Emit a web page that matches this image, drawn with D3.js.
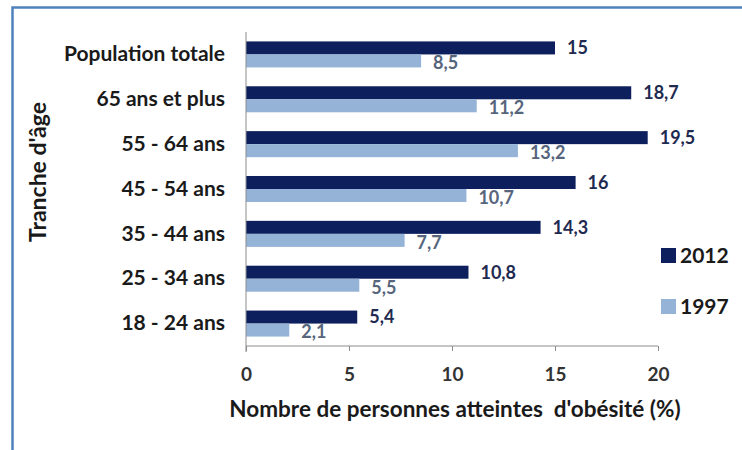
<!DOCTYPE html>
<html>
<head>
<meta charset="utf-8">
<script src="https://cdn.jsdelivr.net/npm/d3@7"></script>
<style>
  body { margin: 0; background: #fff; }
  text { font-family: Lato, "Open Sans", sans-serif; font-weight: 700; }
</style>
</head>
<body>
<div class="graph"></div>
<script>
var categories = ["Population totale", "65 ans et plus", "55 - 64 ans", "45 - 54 ans", "35 - 44 ans", "25 - 34 ans", "18 - 24 ans"];
var series = ["2012", "1997"];
var values2012 = [15, 18.7, 19.5, 16, 14.3, 10.8, 5.4];
var values1997 = [8.5, 11.2, 13.2, 10.7, 7.7, 5.5, 2.1];
var xTicks = [0, 5, 10, 15, 20];

var width = 742, height = 450;
var svg = d3.select(".graph").append("svg")
    .attr("width", width)
    .attr("height", height);

// frame
svg.append("path")
    .attr("d", "M12.5,460 V7.5 H750")
    .attr("fill", "none")
    .attr("stroke", "#4f81bd")
    .attr("stroke-width", 2.5);

var x = d3.scaleLinear().domain([0, 20]).range([246, 658]);
var y0 = d3.scaleBand().domain(categories).range([32, 346])
    .paddingInner(0.42).paddingOuter(0.21);
var y1 = d3.scaleBand().domain(series).range([0, y0.bandwidth()]);
var color = d3.scaleOrdinal().domain(series).range(["#0d1f5c", "#95b3d7"]);
var labelColor = d3.scaleOrdinal().domain(series).range(["#1f2a50", "#56657c"]);

var data = categories.map(function(c, i) {
  return {cat: c, vals: [{s: "2012", v: values2012[i]}, {s: "1997", v: values1997[i]}]};
});

var groups = svg.selectAll(".grp")
    .data(data)
  .enter().append("g")
    .attr("class", "grp")
    .attr("transform", function(d) { return "translate(0," + y0(d.cat) + ")"; });

groups.selectAll("rect")
    .data(function(d) { return d.vals; })
  .enter().append("rect")
    .attr("x", x(0))
    .attr("y", function(d) { return y1(d.s); })
    .attr("width", function(d) { return x(d.v) - x(0); })
    .attr("height", y1.bandwidth())
    .attr("fill", function(d) { return color(d.s); });

groups.selectAll(".val")
    .data(function(d) { return d.vals; })
  .enter().append("text")
    .attr("class", "val")
    .attr("x", function(d) { return x(d.v) + 12; })
    .attr("y", function(d) { return y1(d.s) + y1.bandwidth() / 2 + (d.s === "1997" ? 2 : 0); })
    .attr("dy", ".35em")
    .style("font-size", "18px")
    .attr("fill", function(d) { return labelColor(d.s); })
    .text(function(d) { return String(d.v).replace(".", ","); });

// axes
var xAxis = d3.axisBottom(x).tickValues(xTicks).tickSize(5).tickPadding(17);
var gx = svg.append("g")
    .attr("transform", "translate(0,346)")
    .call(xAxis);
gx.select(".domain").attr("stroke", "#8c8c8c").attr("d", "M246,0H658");
gx.selectAll(".tick line").attr("stroke", "#8c8c8c");
gx.selectAll(".tick text")
    .style("font-family", "Lato, sans-serif")
    .style("font-weight", 700)
    .style("font-size", "19px")
    .attr("fill", "#333");

var yAxis = d3.axisLeft(y0).tickSize(0).tickPadding(21);
var gy = svg.append("g")
    .attr("transform", "translate(246,0)")
    .call(yAxis);
gy.select(".domain").attr("stroke", "#8c8c8c").attr("d", "M0,32V352");
gy.selectAll(".tick text")
    .style("font-family", "Lato, sans-serif")
    .style("font-weight", 700)
    .style("font-size", "21px")
    .attr("fill", "#1a1a1a");

svg.append("text")
    .attr("x", 455)
    .attr("y", 409)
    .attr("dy", ".35em")
    .attr("text-anchor", "middle")
    .style("font-size", "22.5px")
    .style("white-space", "pre")
    .attr("fill", "#1a1a1a")
    .text("Nombre de personnes atteintes  d'obésité (%)");

svg.append("text")
    .attr("transform", "translate(38,172) rotate(-90)")
    .attr("dy", ".35em")
    .attr("text-anchor", "middle")
    .style("font-size", "23px")
    .attr("fill", "#1a1a1a")
    .text("Tranche d'âge");

// legend
var legend = svg.selectAll(".legend")
    .data(series)
  .enter().append("g")
    .attr("class", "legend")
    .attr("transform", function(d, i) { return "translate(661," + (248 + i * 51) + ")"; });

legend.append("rect")
    .attr("width", 15)
    .attr("height", 15)
    .attr("fill", function(d) { return color(d); });

legend.append("text")
    .attr("x", 19)
    .attr("y", 8)
    .attr("dy", ".35em")
    .style("font-size", "21px")
    .attr("fill", "#1a1a1a")
    .text(function(d) { return d; });
</script>
</body>
</html>
